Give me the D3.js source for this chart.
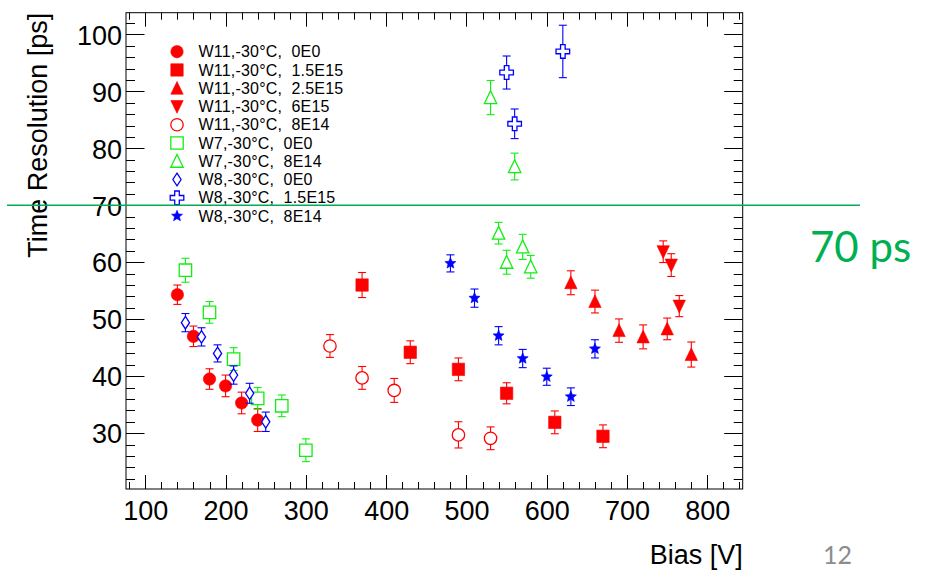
<!DOCTYPE html>
<html>
<head>
<meta charset="utf-8">
<script src="https://cdn.jsdelivr.net/npm/d3@7/dist/d3.min.js"></script>
<style>
  body { margin: 0; background: #fff; }
  svg { display: block; }
  text { white-space: pre; }
</style>
</head>
<body>
<svg id="chart" width="940" height="571"></svg>
<script>
// ---- data: bias voltage [V], time resolution [ps], error [ps] ----
const biasW11_0E0   = [140, 160, 180, 200, 220, 240];
const resW11_0E0    = [54.3, 47.0, 39.5, 38.3, 35.3, 32.3];
const errW11_0E0    = [1.7, 1.8, 1.8, 1.9, 1.9, 2.0];

const biasW11_15E15 = [370, 430, 490, 550, 610, 670];
const resW11_15E15  = [56.0, 44.2, 41.2, 37.0, 31.9, 29.45];
const errW11_15E15  = [2.2, 2.0, 2.0, 1.85, 2.0, 2.0];

const biasW11_25E15 = [630, 660, 690, 720, 750, 780];
const resW11_25E15  = [56.4, 53.1, 48.0, 46.9, 48.3, 43.8];
const errW11_25E15  = [2.1, 2.0, 2.05, 2.1, 1.9, 2.2];

const biasW11_6E15  = [745, 755, 765];
const resW11_6E15   = [61.85, 59.5, 52.3];
const errW11_6E15   = [1.9, 2.0, 1.85];

const biasW11_8E14  = [330, 370, 410, 490, 530];
const resW11_8E14   = [45.3, 39.7, 37.5, 29.7, 29.1];
const errW11_8E14   = [2.0, 2.0, 2.1, 2.3, 2.0];

const biasW7_0E0    = [150, 180, 210, 240, 270, 300];
const resW7_0E0     = [58.6, 51.2, 43.0, 36.1, 34.8, 27.0];
const errW7_0E0     = [2.1, 1.9, 2.0, 1.9, 1.9, 2.0];

const biasW7_8E14   = [530, 540, 550, 560, 570, 580];
const resW7_8E14    = [88.9, 65.1, 60.0, 76.8, 62.7, 59.2];
const errW7_8E14    = [3.0, 1.9, 2.1, 2.35, 2.2, 2.0];

const biasW8_0E0    = [150, 170, 190, 210, 230, 250];
const resW8_0E0     = [49.4, 46.9, 44.0, 40.2, 37.0, 32.0];
const errW8_0E0     = [1.6, 1.6, 1.5, 1.6, 1.75, 1.7];

const biasW8_15E15  = [550, 560, 620];
const resW8_15E15   = [93.3, 84.3, 97.0];
const errW8_15E15   = [2.9, 2.6, 4.6];

const biasW8_8E14   = [480, 510, 540, 570, 600, 630, 660];
const resW8_8E14    = [59.8, 53.7, 47.1, 43.1, 39.9, 36.4, 44.8];
const errW8_8E14    = [1.5, 1.6, 1.6, 1.6, 1.5, 1.55, 1.6];

const seriesNames = [
  "W11,-30°C,  0E0", "W11,-30°C,  1.5E15", "W11,-30°C,  2.5E15",
  "W11,-30°C,  6E15", "W11,-30°C,  8E14", "W7,-30°C,  0E0",
  "W7,-30°C,  8E14", "W8,-30°C,  0E0", "W8,-30°C,  1.5E15", "W8,-30°C,  8E14"
];

const xTickValues = [100, 200, 300, 400, 500, 600, 700, 800];
const yTickValues = [30, 40, 50, 60, 70, 80, 90, 100];
const xDomain = [76, 844];
const yDomain = [20.2, 103.8];
const thresholdPs = 70;

// ---- series styling ----
const RED = "#ff0000", GREEN = "#11ee11", BLUE = "#0000ff";
const series = [
  { x: biasW11_0E0,   y: resW11_0E0,   e: errW11_0E0,   shape: "circle",   color: RED,   open: false },
  { x: biasW11_15E15, y: resW11_15E15, e: errW11_15E15, shape: "square",   color: RED,   open: false },
  { x: biasW11_25E15, y: resW11_25E15, e: errW11_25E15, shape: "triUp",    color: RED,   open: false },
  { x: biasW11_6E15,  y: resW11_6E15,  e: errW11_6E15,  shape: "triDown",  color: RED,   open: false },
  { x: biasW11_8E14,  y: resW11_8E14,  e: errW11_8E14,  shape: "circle",   color: RED,   open: true  },
  { x: biasW7_0E0,    y: resW7_0E0,    e: errW7_0E0,    shape: "square",   color: GREEN, open: true  },
  { x: biasW7_8E14,   y: resW7_8E14,   e: errW7_8E14,   shape: "triUp",    color: GREEN, open: true  },
  { x: biasW8_0E0,    y: resW8_0E0,    e: errW8_0E0,    shape: "diamond",  color: BLUE,  open: true  },
  { x: biasW8_15E15,  y: resW8_15E15,  e: errW8_15E15,  shape: "cross",    color: BLUE,  open: true  },
  { x: biasW8_8E14,   y: resW8_8E14,   e: errW8_8E14,   shape: "star",     color: BLUE,  open: false }
].map((s, i) => Object.assign(s, { name: seriesNames[i] }));

// ---- layout ----
const frame = { left: 126, right: 742.7, top: 12.7, bottom: 489 };
const svg = d3.select("#chart");
const x = d3.scaleLinear().domain(xDomain).range([frame.left, frame.right]);
const y = d3.scaleLinear().domain(yDomain).range([frame.bottom, frame.top]);

const FONT = "'Liberation Sans', Arial, Helvetica, sans-serif";

// marker outlines centred on (0,0)
function markerPath(shape) {
  const p = d3.path();
  switch (shape) {
    case "circle": p.arc(0, 0, 6.2, 0, 2 * Math.PI); p.closePath(); break;
    case "square": p.rect(-6.2, -6.2, 12.4, 12.4); break;
    case "triUp": p.moveTo(0, -6.8); p.lineTo(6.2, 6.0); p.lineTo(-6.2, 6.0); p.closePath(); break;
    case "triDown": p.moveTo(0, 6.8); p.lineTo(6.2, -6.0); p.lineTo(-6.2, -6.0); p.closePath(); break;
    case "diamond": p.moveTo(0, -6.3); p.lineTo(4.1, 0); p.lineTo(0, 6.3); p.lineTo(-4.1, 0); p.closePath(); break;
    case "cross": {
      const a = 2.3, L = 6.8;
      p.moveTo(-a, -L); p.lineTo(a, -L); p.lineTo(a, -a); p.lineTo(L, -a); p.lineTo(L, a);
      p.lineTo(a, a); p.lineTo(a, L); p.lineTo(-a, L); p.lineTo(-a, a); p.lineTo(-L, a);
      p.lineTo(-L, -a); p.lineTo(-a, -a); p.closePath(); break;
    }
    case "star": {
      const ro = 5.8, ri = 2.6;
      for (let k = 0; k < 10; k++) {
        const r = k % 2 === 0 ? ro : ri;
        const ang = -Math.PI / 2 + k * Math.PI / 5;
        const px = r * Math.cos(ang), py = r * Math.sin(ang);
        if (k === 0) p.moveTo(px, py); else p.lineTo(px, py);
      }
      p.closePath(); break;
    }
  }
  return p.toString();
}

function drawMarker(g, s) {
  g.append("path")
    .attr("d", markerPath(s.shape))
    .attr("fill", s.open ? "#fff" : s.color)
    .attr("stroke", s.color)
    .attr("stroke-width", s.open ? 1.3 : 0.6);
}

// ---- frame and ticks (ticks on all four sides, pointing inward) ----
const axes = svg.append("g").attr("stroke", "#000").attr("stroke-width", 1).attr("fill", "none");
axes.append("rect")
  .attr("x", frame.left).attr("y", frame.top)
  .attr("width", frame.right - frame.left).attr("height", frame.bottom - frame.top);

const xMinor = d3.range(80, 844, 20);
const yMinor = d3.range(22, 103.8, 2);
xMinor.forEach(v => {
  const major = v % 100 === 0;
  const len = major ? 14 : 7;
  const px = Math.round(x(v)) + 0.5;
  axes.append("line").attr("x1", px).attr("x2", px).attr("y1", frame.bottom).attr("y2", frame.bottom - len);
  axes.append("line").attr("x1", px).attr("x2", px).attr("y1", frame.top).attr("y2", frame.top + len);
});
yMinor.forEach(v => {
  const major = Math.abs(v % 10) < 1e-6;
  const len = major ? 18.5 : 9;
  const py = Math.round(y(v)) + 0.5;
  axes.append("line").attr("y1", py).attr("y2", py).attr("x1", frame.left).attr("x2", frame.left + len);
  axes.append("line").attr("y1", py).attr("y2", py).attr("x1", frame.right).attr("x2", frame.right - len);
});

// tick labels
const xAxisG = svg.append("g").attr("transform", `translate(0,${frame.bottom})`)
  .call(d3.axisBottom(x).tickValues(xTickValues).tickSize(0).tickPadding(0));
xAxisG.select(".domain").remove();
xAxisG.selectAll("text").attr("font-family", FONT).attr("font-size", 27).attr("fill", "#000")
  .attr("dy", null).attr("y", 30.5);

const yAxisG = svg.append("g").attr("transform", `translate(${frame.left},0)`)
  .call(d3.axisLeft(y).tickValues(yTickValues).tickSize(0).tickPadding(0));
yAxisG.select(".domain").remove();
yAxisG.selectAll("text").attr("font-family", FONT).attr("font-size", 27).attr("fill", "#000")
  .attr("x", -4).attr("dy", "0.36em");

// axis titles
svg.append("text").attr("x", frame.right).attr("y", 564)
  .attr("text-anchor", "end").attr("font-family", FONT).attr("font-size", 27)
  .text("Bias [V]");
svg.append("text").attr("transform", `translate(47,${frame.top}) rotate(-90)`)
  .attr("text-anchor", "end").attr("font-family", FONT).attr("font-size", 27)
  .text("Time Resolution [ps]");

// ---- error bars and markers ----
series.forEach(s => {
  const g = svg.append("g");
  s.x.forEach((xv, i) => {
    const cx = x(xv), cy = y(s.y[i]);
    const yHi = y(s.y[i] + s.e[i]), yLo = y(s.y[i] - s.e[i]);
    const eb = g.append("g").attr("stroke", s.color).attr("stroke-width", 1.1);
    eb.append("line").attr("x1", cx).attr("x2", cx).attr("y1", yHi).attr("y2", yLo);
    eb.append("line").attr("x1", cx - 4).attr("x2", cx + 4).attr("y1", yHi).attr("y2", yHi);
    eb.append("line").attr("x1", cx - 4).attr("x2", cx + 4).attr("y1", yLo).attr("y2", yLo);
    drawMarker(g.append("g").attr("transform", `translate(${cx},${cy})`), s);
  });
});

// ---- legend ----
const legend = svg.append("g");
series.forEach((s, i) => {
  const rowY = 51.7 + i * 18.26;
  drawMarker(legend.append("g").attr("transform", `translate(177,${rowY})`), s);
  legend.append("text").attr("x", 198.5).attr("y", rowY + 5.6)
    .attr("xml:space", "preserve")
    .attr("font-family", FONT).attr("font-size", 16).attr("letter-spacing", 0.2).attr("fill", "#000")
    .text(s.name);
});

// ---- 70 ps reference line ----
const GUIDE = "#00b050";
svg.append("line")
  .attr("x1", 7).attr("x2", 860)
  .attr("y1", y(thresholdPs)).attr("y2", y(thresholdPs))
  .attr("stroke", GUIDE).attr("stroke-width", 1.5);
svg.append("text").attr("x", 810).attr("y", 262)
  .attr("font-family", "Lato, 'Open Sans', sans-serif").attr("font-size", 42).attr("fill", GUIDE)
  .text(thresholdPs + " ps");

// slide number
svg.append("text").attr("x", 823).attr("y", 564)
  .attr("font-family", "Lato, 'Open Sans', sans-serif").attr("font-size", 25).attr("fill", "#8c8c8c")
  .text("12");
</script>
</body>
</html>
